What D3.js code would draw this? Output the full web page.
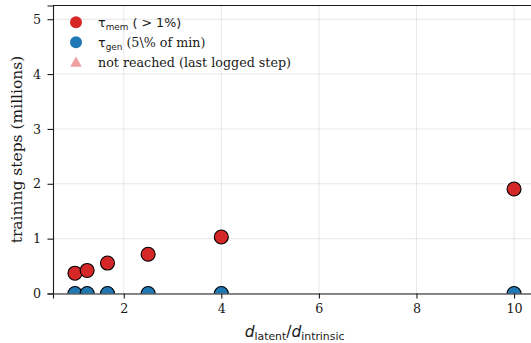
<!DOCTYPE html>
<html>
<head>
<meta charset="utf-8">
<script src="https://cdn.jsdelivr.net/npm/d3@7"></script>
<style>
  html, body { margin: 0; padding: 0; background: #fff; }
  svg { display: block; }
  text { font-family: "DejaVu Serif", serif; fill: #1a1a1a; }
  .sans { font-family: "DejaVu Sans", sans-serif; }
</style>
</head>
<body>
<svg id="chart" width="531" height="343"></svg>
<script>
// ratio d_latent / d_intrinsic
const ratios = [1, 1.25, 1.6667, 2.5, 4, 10];
// memorisation onset (millions of steps)
const tauMem = [0.37, 0.42, 0.555, 0.715, 1.03, 1.905];
// generalisation onset (millions of steps)
const tauGen = [0, 0, 0, 0, 0, 0];
const xTicks = [2, 4, 6, 8, 10];
const yTicks = [0, 1, 2, 3, 4, 5];

const svg = d3.select("#chart");
const mLeft = 53, mRight = 536, mTop = 5.5, mBottom = 293.5;
const tickFont = 12.7, labelFont = 15.5, legendFont = 12.7;

const x = d3.scaleLinear().domain([0.55, 10.45]).range([mLeft, mRight]);
const y = d3.scaleLinear().domain([0, 5.25]).range([mBottom, mTop]);

// grid
const grid = svg.append("g");
grid.selectAll("line.gx").data(xTicks).join("line")
  .attr("x1", d => x(d)).attr("x2", d => x(d))
  .attr("y1", mTop).attr("y2", mBottom)
  .attr("stroke", "#b0b0b0").attr("stroke-opacity", 0.3).attr("stroke-width", 1);
grid.selectAll("line.gy").data(yTicks).join("line")
  .attr("x1", mLeft).attr("x2", mRight)
  .attr("y1", d => y(d)).attr("y2", d => y(d))
  .attr("stroke", "#b0b0b0").attr("stroke-opacity", 0.3).attr("stroke-width", 1);

// points (clipped to the axes box)
svg.append("clipPath").attr("id", "clip").append("rect")
  .attr("x", mLeft).attr("y", mTop).attr("width", mRight - mLeft).attr("height", mBottom - mTop);
const pts = svg.append("g").attr("clip-path", "url(#clip)");
pts.selectAll("circle.mem").data(ratios).join("circle").attr("class", "mem")
  .attr("cx", d => x(d)).attr("cy", (d, i) => y(tauMem[i])).attr("r", 7)
  .attr("fill", "#d62728").attr("stroke", "#000").attr("stroke-width", 1.1);
pts.selectAll("circle.gen").data(ratios).join("circle").attr("class", "gen")
  .attr("cx", d => x(d)).attr("cy", (d, i) => y(tauGen[i])).attr("r", 7)
  .attr("fill", "#1f77b4").attr("stroke", "#000").attr("stroke-width", 1.1);

// axes
const xAxis = svg.append("g").attr("transform", `translate(0,${mBottom})`)
  .call(d3.axisBottom(x).tickValues(xTicks).tickSize(5).tickPadding(5).tickFormat(d3.format("d")));
const yAxis = svg.append("g").attr("transform", `translate(${mLeft},0)`)
  .call(d3.axisLeft(y).tickValues(yTicks).tickSize(5.5).tickPadding(6.5).tickFormat(d3.format("d")));
[xAxis, yAxis].forEach(a => {
  a.select(".domain").attr("stroke", "#1a1a1a").attr("stroke-width", 1.1);
  a.selectAll(".tick line").attr("stroke", "#1a1a1a").attr("stroke-width", 1.1);
  a.selectAll(".tick text").attr("font-family", "DejaVu Serif, serif")
    .attr("font-size", tickFont).attr("fill", "#1a1a1a");
});
// top spine
svg.append("line").attr("x1", mLeft).attr("x2", mRight).attr("y1", mTop).attr("y2", mTop)
  .attr("stroke", "#1a1a1a").attr("stroke-width", 1.1);

// axis labels
svg.append("text")
  .attr("transform", `translate(22,${(mTop + mBottom) / 2}) rotate(-90)`)
  .attr("text-anchor", "middle").attr("font-size", labelFont)
  .text("training steps (millions)");

const xl = svg.append("text").attr("x", (mLeft + mRight) / 2).attr("y", 336.5)
  .attr("text-anchor", "middle").attr("class", "sans").attr("font-size", labelFont);
xl.append("tspan").attr("font-style", "italic").text("d");
xl.append("tspan").attr("font-size", labelFont * 0.7).attr("dy", 3.3).text("latent");
xl.append("tspan").attr("dy", -3.3).text("/");
xl.append("tspan").attr("font-style", "italic").text("d");
xl.append("tspan").attr("font-size", labelFont * 0.7).attr("dy", 3.3).text("intrinsic");

// legend
const lg = svg.append("g");
const lx = 76, ly = [22.3, 42.3, 62.3], tx = 98;
lg.append("circle").attr("cx", lx).attr("cy", ly[0]).attr("r", 6).attr("fill", "#d62728");
lg.append("circle").attr("cx", lx).attr("cy", ly[1]).attr("r", 6).attr("fill", "#1f77b4");
lg.append("path").attr("d", d3.symbol(d3.symbolTriangle, 58)())
  .attr("transform", `translate(${lx},${ly[2] + 1})`).attr("fill", "#f0a0a0");

const base = 4.6;
const t1 = lg.append("text").attr("x", tx).attr("y", ly[0] + base).attr("font-size", legendFont);
t1.append("tspan").attr("class", "sans").text("τ");
t1.append("tspan").attr("class", "sans").attr("font-size", legendFont * 0.7).attr("dy", 2.7).text("mem");
t1.append("tspan").attr("class", "sans").attr("dy", -2.7).text(" ( > 1%)");

const t2 = lg.append("text").attr("x", tx).attr("y", ly[1] + base).attr("font-size", legendFont);
t2.append("tspan").attr("class", "sans").text("τ");
t2.append("tspan").attr("class", "sans").attr("font-size", legendFont * 0.7).attr("dy", 2.7).text("gen");
t2.append("tspan").attr("dy", -2.7).text(" (5\\% of min)");

lg.append("text").attr("x", tx).attr("y", ly[2] + base).attr("font-size", legendFont)
  .text("not reached (last logged step)");
</script>
</body>
</html>
